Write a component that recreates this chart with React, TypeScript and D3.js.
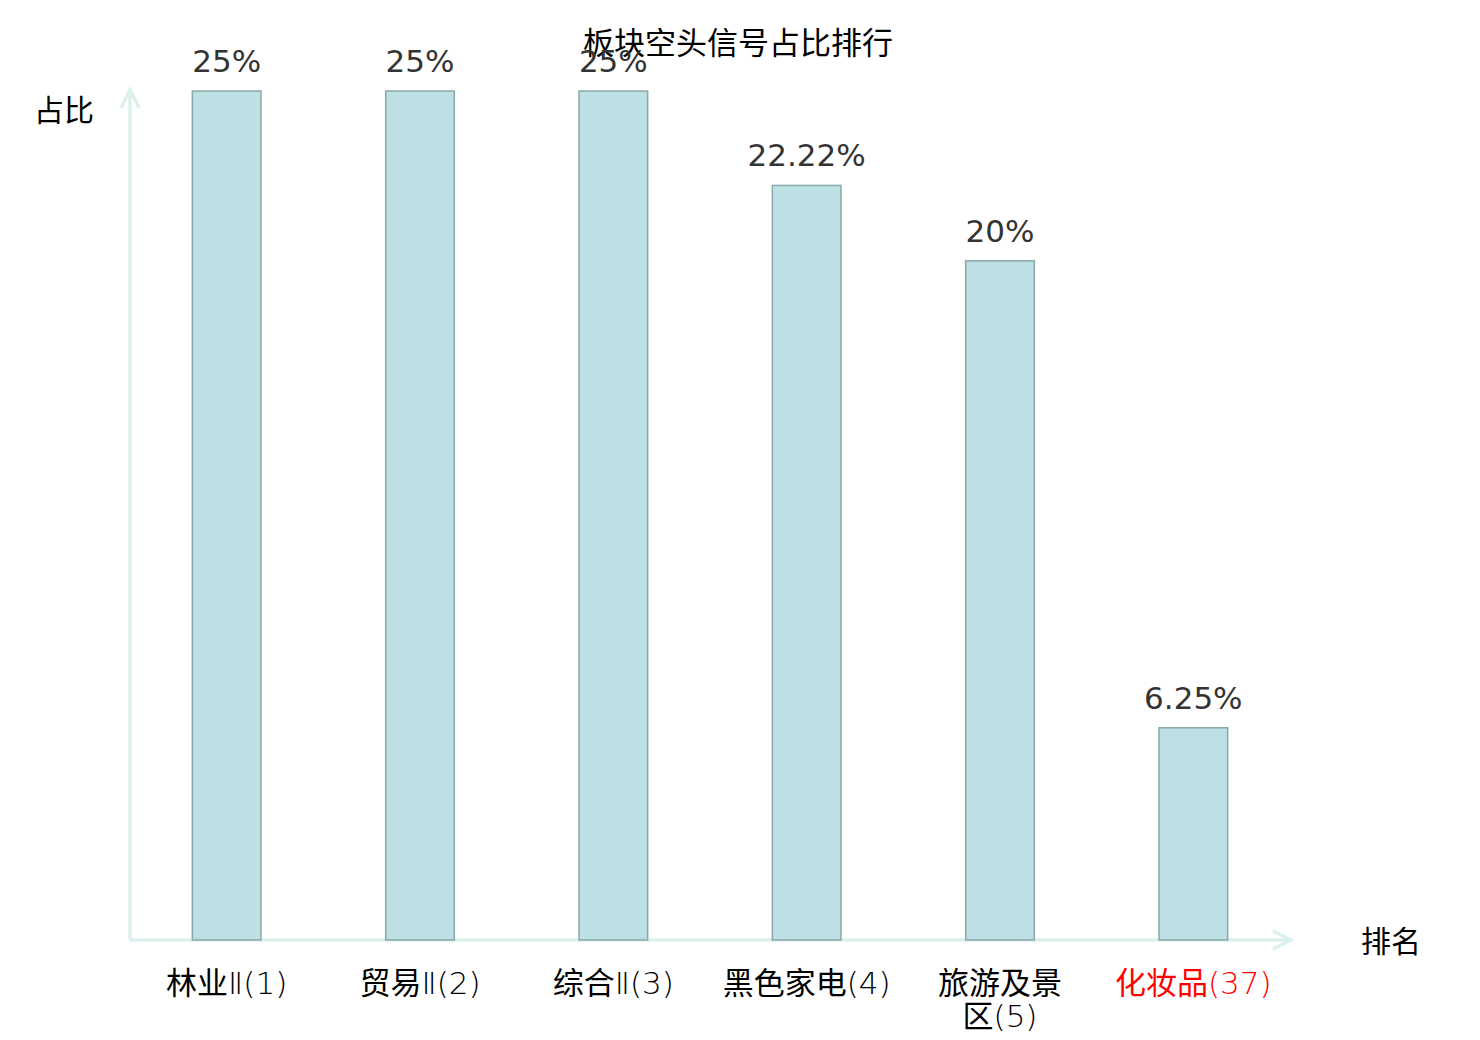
import React, { useEffect, useRef } from "react"
import * as d3 from "d3"

const categories = ["林业Ⅱ(1)", "贸易Ⅱ(2)", "综合Ⅱ(3)", "黑色家电(4)", "旅游及景区(5)", "化妆品(37)"]
const values = [25, 25, 25, 22.22, 20, 6.25]
const valueLabels = ["25%", "25%", "25%", "22.22%", "20%", "6.25%"]
const highlight = "化妆品(37)"

const W = 1480
const H = 1040
const cjk = "'Noto Sans CJK SC', 'Noto Sans', sans-serif"
const latin = "'DejaVu Sans', sans-serif"

const isCjk = (c: string) => /[\u4e00-\u9fff]/.test(c)

// split a label into breakable units: a CJK char, with any latin text that follows glued to it
function units(s: string) {
  const out: string[] = []
  Array.from(s).forEach((c) => {
    if (isCjk(c) || out.length === 0) out.push(c)
    else out[out.length - 1] += c
  })
  return out
}

// write text as tspans, CJK in one font and latin in a light one
function writeRuns(t: d3.Selection<SVGTextElement, unknown, null, undefined>, s: string) {
  let run = ""
  let runCjk: boolean | null = null
  const flush = () => {
    if (!run) return
    t.append("tspan")
      .attr("font-family", runCjk ? cjk : latin)
      .attr("font-weight", runCjk ? 400 : 200)
      .text(run)
    run = ""
  }
  Array.from(s).forEach((c) => {
    const k = isCjk(c)
    if (runCjk !== null && k !== runCjk) flush()
    runCjk = k
    run += c
  })
  flush()
}

const App = () => {
  const ref = useRef<SVGSVGElement | null>(null)

  useEffect(() => {
    const svg = d3.select(ref.current)
    svg.selectAll("*").remove()

    const left = 130
    const right = 1290
    const bottom = 940
    const top = 91

    const x = d3.scaleBand().domain(categories).range([left, right]).paddingInner(0).paddingOuter(0)
    const y = d3.scaleLinear().domain([0, 25]).range([bottom, top])
    const barW = x.bandwidth() * 0.355

    // title
    svg
      .append("text")
      .attr("x", 738)
      .attr("y", 54)
      .attr("text-anchor", "middle")
      .attr("font-family", cjk)
      .attr("font-size", 31)
      .attr("fill", "#000")
      .text("板块空头信号占比排行")

    // axes with arrows
    const axisColor = "#dcf1ee"
    const ax = svg.append("g").attr("stroke", axisColor).attr("stroke-width", 3.5).attr("fill", "none")
    ax.append("line").attr("x1", left).attr("x2", left).attr("y1", bottom).attr("y2", top - 2)
    ax.append("path").attr("d", `M${left - 9},${top + 17}L${left},${top - 1}L${left + 9},${top + 17}`)
    ax.append("line").attr("x1", left).attr("x2", right).attr("y1", bottom).attr("y2", bottom)
    ax.append("path").attr("d", `M${right - 17},${bottom - 9}L${right + 1},${bottom}L${right - 17},${bottom + 9}`)

    svg
      .append("text")
      .attr("x", 34)
      .attr("y", 121)
      .attr("font-family", cjk)
      .attr("font-size", 30)
      .attr("fill", "#000")
      .text("占比")

    svg
      .append("text")
      .attr("x", 1361)
      .attr("y", 952)
      .attr("font-family", cjk)
      .attr("font-size", 30)
      .attr("fill", "#000")
      .text("排名")

    // bars
    svg
      .append("g")
      .selectAll("rect")
      .data(values)
      .join("rect")
      .attr("x", (d, i) => x(categories[i])! + (x.bandwidth() - barW) / 2)
      .attr("y", (d) => y(d))
      .attr("width", barW)
      .attr("height", (d) => y(0) - y(d))
      .attr("fill", "#bce0e3")
      .attr("stroke", "#8aa8aa")
      .attr("stroke-width", 1.5)

    // value labels
    svg
      .append("g")
      .selectAll("text")
      .data(values)
      .join("text")
      .attr("x", (d, i) => x(categories[i])! + x.bandwidth() / 2)
      .attr("y", (d) => y(d) - 19)
      .attr("text-anchor", "middle")
      .attr("font-family", latin)
      .attr("font-size", 31)
      .attr("fill", "#333")
      .text((d, i) => valueLabels[i])

    // category labels, wrapped to band width
    const fs = 31
    const measure = svg.append("text").attr("font-size", fs).attr("visibility", "hidden")
    const widthOf = (s: string) => {
      measure.selectAll("*").remove()
      writeRuns(measure as any, s)
      return (measure.node() as SVGTextElement).getComputedTextLength()
    }
    const g = svg.append("g")
    categories.forEach((c) => {
      const lines: string[] = []
      let line = ""
      units(c).forEach((u) => {
        if (line && widthOf(line + u) > x.bandwidth()) {
          lines.push(line)
          line = u
        } else line += u
      })
      lines.push(line)
      lines.forEach((l, k) => {
        const t = g
          .append("text")
          .attr("x", x(c)! + x.bandwidth() / 2)
          .attr("y", 994 + k * 33)
          .attr("text-anchor", "middle")
          .attr("font-size", fs)
          .attr("fill", c === highlight ? "#f00" : "#000")
        writeRuns(t as any, l)
      })
    })
    measure.remove()
  }, [])

  return (
    <svg
      ref={ref}
      width={W}
      height={H}
      style={{ position: "absolute", left: 0, top: 0, background: "#fff" }}
    />
  )
}

export default App
